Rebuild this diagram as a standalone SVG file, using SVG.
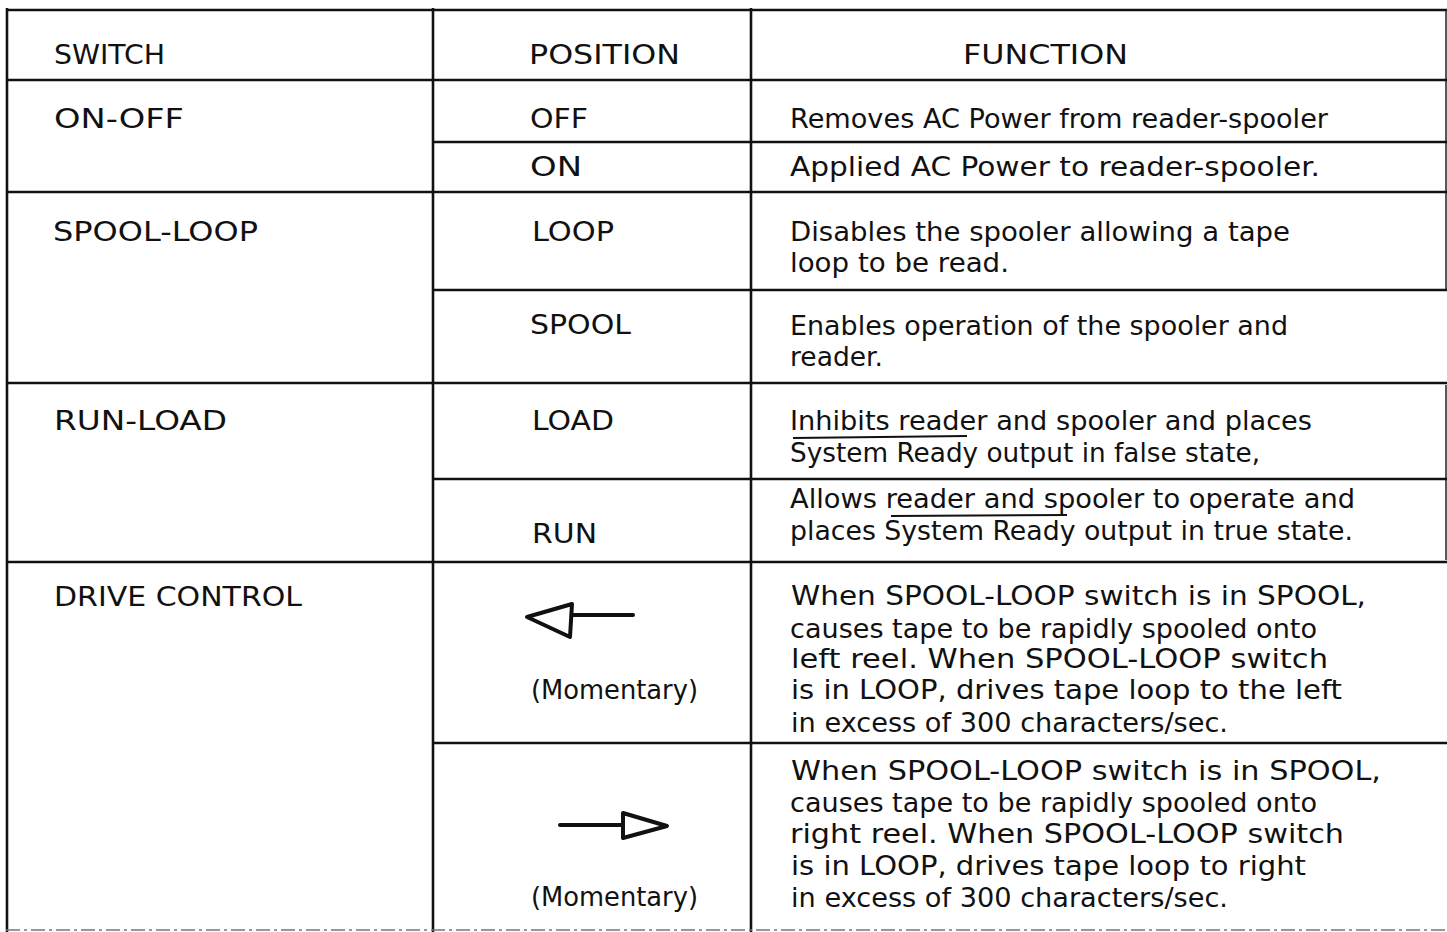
<svg xmlns="http://www.w3.org/2000/svg" width="1447" height="932" viewBox="0 0 1447 932">
<style>
.t{font-family:"DejaVu Sans","Liberation Sans",Arial,sans-serif;font-size:26px;fill:#111;}
.c{font-family:"DejaVu Sans","Liberation Sans",Arial,sans-serif;font-size:26px;fill:#111;}
.r{stroke:#111;stroke-width:2.6;fill:none;}
.thin{stroke:#222;stroke-width:1.5;fill:none;}
.faint{stroke:#777;stroke-width:1.5;fill:none;stroke-dasharray:14 4 3 4;}
.ar{stroke:#111;stroke-width:4;fill:none;stroke-linejoin:round;stroke-linecap:round;}
.bar{stroke:#111;stroke-width:2;fill:none;}
</style>
<rect width="1447" height="932" fill="#fff"/>
<g id="connectors">
  <line class="r" x1="6" y1="10" x2="1447" y2="10"/>
  <line class="r" x1="7" y1="8" x2="7" y2="932"/>
  <line class="r" x1="433" y1="8" x2="433" y2="932"/>
  <line class="r" x1="751" y1="8" x2="751" y2="932"/>
  <line class="thin" x1="1446" y1="10" x2="1446" y2="290"/>
  <line class="thin" x1="1446" y1="385" x2="1446" y2="560"/>
  <line class="r" x1="6" y1="80" x2="1447" y2="80"/>
  <line class="r" x1="433" y1="142" x2="1447" y2="142"/>
  <line class="r" x1="6" y1="192" x2="1447" y2="192"/>
  <line class="r" x1="433" y1="290" x2="1447" y2="290"/>
  <line class="r" x1="6" y1="383" x2="1447" y2="383"/>
  <line class="r" x1="433" y1="479" x2="1447" y2="479"/>
  <line class="r" x1="6" y1="562" x2="1447" y2="562"/>
  <line class="r" x1="433" y1="743" x2="1447" y2="743"/>
  <line class="faint" x1="6" y1="930" x2="1447" y2="930"/>
</g>
<g id="header">
  <text class="c" x="54" y="64" textLength="111" lengthAdjust="spacingAndGlyphs">SWITCH</text>
  <text class="c" x="529" y="64" textLength="151" lengthAdjust="spacingAndGlyphs">POSITION</text>
  <text class="c" x="963" y="64" textLength="165" lengthAdjust="spacingAndGlyphs">FUNCTION</text>
</g>
<g id="row-on-off">
  <text class="c" x="54" y="128" textLength="130" lengthAdjust="spacingAndGlyphs">ON-OFF</text>
  <text class="c" x="530" y="128" textLength="58" lengthAdjust="spacingAndGlyphs">OFF</text>
  <text class="c" x="530" y="176" textLength="52" lengthAdjust="spacingAndGlyphs">ON</text>
  <text class="t" x="790" y="128" textLength="538" lengthAdjust="spacingAndGlyphs">Removes AC Power from reader-spooler</text>
  <text class="t" x="790" y="176" textLength="530" lengthAdjust="spacingAndGlyphs">Applied AC Power to reader-spooler.</text>
</g>
<g id="row-spool-loop">
  <text class="c" x="53" y="241" textLength="205" lengthAdjust="spacingAndGlyphs">SPOOL-LOOP</text>
  <text class="c" x="532" y="241" textLength="82" lengthAdjust="spacingAndGlyphs">LOOP</text>
  <text class="t" x="790" y="241" textLength="500" lengthAdjust="spacingAndGlyphs">Disables the spooler allowing a tape</text>
  <text class="t" x="790" y="272" textLength="219" lengthAdjust="spacingAndGlyphs">loop to be read.</text>
  <text class="c" x="530" y="334" textLength="101" lengthAdjust="spacingAndGlyphs">SPOOL</text>
  <text class="t" x="790" y="335" textLength="498" lengthAdjust="spacingAndGlyphs">Enables operation of the spooler and</text>
  <text class="t" x="790" y="366" textLength="93" lengthAdjust="spacingAndGlyphs">reader.</text>
</g>
<g id="row-run-load">
  <text class="c" x="54" y="430" textLength="173" lengthAdjust="spacingAndGlyphs">RUN-LOAD</text>
  <text class="c" x="532" y="430" textLength="82" lengthAdjust="spacingAndGlyphs">LOAD</text>
  <text class="t" x="790" y="430" textLength="522" lengthAdjust="spacingAndGlyphs">Inhibits reader and spooler and places</text>
  <line class="bar" x1="793" y1="438" x2="967" y2="436"/>
  <text class="t" x="790" y="462" textLength="470" lengthAdjust="spacingAndGlyphs">System Ready output in false state,</text>
  <text class="c" x="532" y="543" textLength="65" lengthAdjust="spacingAndGlyphs">RUN</text>
  <text class="t" x="790" y="508" textLength="565" lengthAdjust="spacingAndGlyphs">Allows reader and spooler to operate and</text>
  <line class="bar" x1="891" y1="516" x2="1067" y2="515"/>
  <text class="t" x="790" y="540" textLength="563" lengthAdjust="spacingAndGlyphs">places System Ready output in true state.</text>
</g>
<g id="row-drive-control">
  <text class="c" x="54" y="606" textLength="248" lengthAdjust="spacingAndGlyphs">DRIVE CONTROL</text>
  <g id="arrow-left">
    <line class="ar" x1="573" y1="615" x2="633" y2="615"/>
    <path class="ar" d="M572 604 L527 617 L570 637 Z"/>
  </g>
  <text class="t" x="531" y="699" textLength="167" lengthAdjust="spacingAndGlyphs">(Momentary)</text>
  <text class="t" x="791" y="605" textLength="575" lengthAdjust="spacingAndGlyphs">When SPOOL-LOOP switch is in SPOOL,</text>
  <text class="t" x="790" y="638" textLength="527" lengthAdjust="spacingAndGlyphs">causes tape to be rapidly spooled onto</text>
  <text class="t" x="791" y="668" textLength="537" lengthAdjust="spacingAndGlyphs">left reel.  When SPOOL-LOOP switch</text>
  <text class="t" x="791" y="699" textLength="551" lengthAdjust="spacingAndGlyphs">is in LOOP, drives tape loop to the left</text>
  <text class="t" x="791" y="732" textLength="437" lengthAdjust="spacingAndGlyphs">in excess of 300 characters/sec.</text>
  <g id="arrow-right">
    <line class="ar" x1="560" y1="825" x2="623" y2="825"/>
    <path class="ar" d="M623 813 L667 826 L623 838 Z"/>
  </g>
  <text class="t" x="531" y="906" textLength="167" lengthAdjust="spacingAndGlyphs">(Momentary)</text>
  <text class="t" x="791" y="780" textLength="590" lengthAdjust="spacingAndGlyphs">When SPOOL-LOOP switch is in SPOOL,</text>
  <text class="t" x="790" y="812" textLength="527" lengthAdjust="spacingAndGlyphs">causes tape to be rapidly spooled onto</text>
  <text class="t" x="790" y="843" textLength="554" lengthAdjust="spacingAndGlyphs">right reel.  When SPOOL-LOOP switch</text>
  <text class="t" x="791" y="875" textLength="515" lengthAdjust="spacingAndGlyphs">is in LOOP, drives tape loop to right</text>
  <text class="t" x="791" y="907" textLength="437" lengthAdjust="spacingAndGlyphs">in excess of 300 characters/sec.</text>
</g>
</svg>
